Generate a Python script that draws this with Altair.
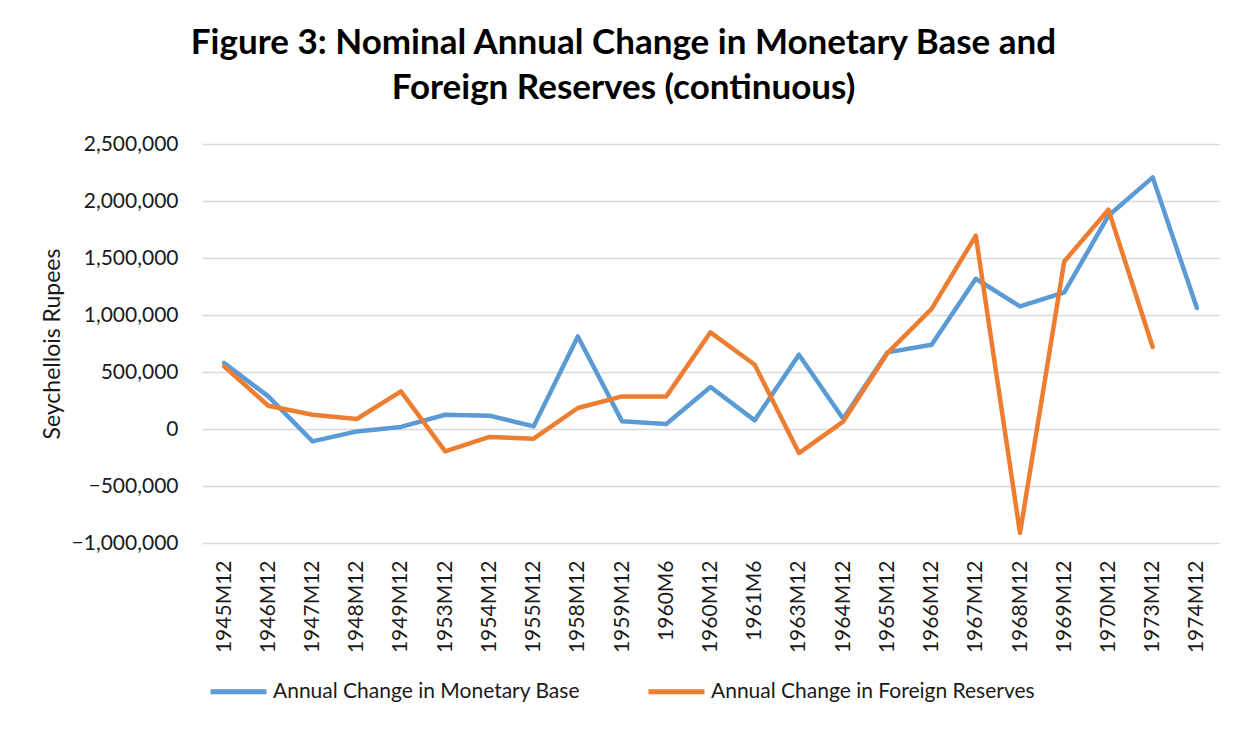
import altair as alt
import pandas as pd

categories = ["1945M12", "1946M12", "1947M12", "1948M12", "1949M12", "1953M12",
              "1954M12", "1955M12", "1958M12", "1959M12", "1960M6", "1960M12",
              "1961M6", "1963M12", "1964M12", "1965M12", "1966M12", "1967M12",
              "1968M12", "1969M12", "1970M12", "1973M12", "1974M12"]

monetary_base = [579000, 286000, -109000, -21000, 18000, 125000,
                 117000, 23000, 812000, 67000, 44000, 368000,
                 76000, 652000, 90000, 672000, 739000, 1318000,
                 1075000, 1198000, 1871000, 2207000, 1061000]

foreign_reserves = [549000, 204000, 125000, 88000, 330000, -196000,
                    -70000, -85000, 184000, 286000, 286000, 848000,
                    564000, -211000, 65000, 665000, 1053000, 1696000,
                    -912000, 1470000, 1924000, 719000, None]

series_names = ["Annual Change in Monetary Base", "Annual Change in Foreign Reserves"]
series_colors = ["#5B9BD5", "#ED7D31"]

rows = []
for i, c in enumerate(categories):
    rows.append({"period": c, "series": series_names[0], "value": monetary_base[i], "order": i})
    if foreign_reserves[i] is not None:
        rows.append({"period": c, "series": series_names[1], "value": foreign_reserves[i], "order": i})
df = pd.DataFrame(rows)

FONT = "Lato"
TXT = "#1a1a1a"

chart = alt.Chart(df).mark_line(strokeWidth=4.5, strokeJoin="round", strokeCap="round").encode(
    x=alt.X("period:N", sort=categories,
            scale=alt.Scale(type="point", padding=0.5),
            axis=alt.Axis(title=None, labelAngle=270, labelFontSize=21, labelFont=FONT,
                          labelColor=TXT, ticks=False, domain=False, grid=False,
                          labelPadding=17)),
    y=alt.Y("value:Q",
            scale=alt.Scale(domain=[-1000000, 2500000], nice=False, zero=False),
            axis=alt.Axis(title="Seychellois Rupees", values=list(range(-1000000, 2500001, 500000)),
                          format=",d", labelFontSize=21, labelFont=FONT, labelColor=TXT,
                          titleFontSize=23, titleFont=FONT, titleFontWeight="normal",
                          titleColor=TXT, titlePadding=7,
                          ticks=False, domain=False, gridColor="#d9d9d9", gridWidth=1.5,
                          labelPadding=24)),
    color=alt.Color("series:N", sort=series_names,
                    scale=alt.Scale(domain=series_names, range=series_colors),
                    legend=alt.Legend(title=None, orient="none", direction="horizontal",
                                      legendX=6, legendY=517,
                                      symbolType="stroke", symbolSize=3136,
                                      symbolStrokeWidth=5, labelFontSize=21,
                                      labelFont=FONT, labelColor=TXT, labelLimit=0,
                                      columnPadding=58, labelOffset=4)),
    order="order:Q",
).properties(
    width=1017,
    height=399,
    title=alt.TitleParams(
        text=["Figure 3: Nominal Annual Change in Monetary Base and",
              "Foreign Reserves  (continuous)"],
        font=FONT, fontSize=35, fontWeight="bold", color="black",
        anchor="middle", dx=-87, dy=44, offset=36, lineHeight=45, baseline="bottom"),
    autosize=alt.AutoSizeParams(type="none"),
    padding={"left": 194, "top": 136, "right": 20, "bottom": 180},
).configure_view(stroke=None)

chart.save("out.html", embed_options={"renderer": "svg", "actions": False})
